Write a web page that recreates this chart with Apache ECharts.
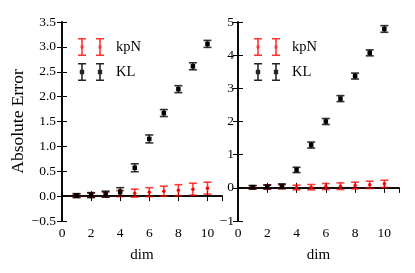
<!DOCTYPE html>
<html><head><meta charset="utf-8">
<script src="https://cdn.jsdelivr.net/npm/echarts@6/dist/echarts.min.js"></script>
<style>html,body{margin:0;padding:0;background:#fff}#c{width:415px;height:273px}</style>
</head><body><div id="c"></div>
<script>
var dims = [1,2,3,4,5,6,7,8,9,10];
var leftKL = [0.01,0.02,0.04,0.09,0.57,1.15,1.67,2.15,2.61,3.06];
var leftKLErr = [0.04,0.05,0.06,0.08,0.08,0.08,0.07,0.07,0.07,0.07];
var leftKpN = [0.01,0.02,0.03,0.05,0.06,0.08,0.10,0.12,0.14,0.16];
var leftKpNErr = [0.03,0.04,0.05,0.06,0.08,0.09,0.10,0.11,0.12,0.12];
var rightKL = [0.02,0.03,0.05,0.54,1.29,2.00,2.69,3.37,4.07,4.79];
var rightKLErr = [0.05,0.06,0.07,0.08,0.09,0.09,0.09,0.09,0.09,0.10];
var rightKpN = [0.01,0.02,0.03,0.01,0.02,0.04,0.05,0.07,0.09,0.12];
var rightKpNErr = [0.05,0.06,0.06,0.07,0.08,0.09,0.10,0.10,0.11,0.11];
var leftYTicks = {min:-0.5, max:3.5, interval:0.5};
var rightYTicks = {min:-1, max:5, interval:1};
var xTicks = {min:0, max:11, interval:2};

var FONT = 'Liberation Serif';
var RED = '#ff0000', BLK = '#000000';

function triples(vals, errs){ return dims.map(function(d,i){ return [d, vals[i], errs[i]]; }); }
function pairs(vals){ return dims.map(function(d,i){ return [d, vals[i]]; }); }

function errRender(color, opacity){
  return function(params, api){
    var x = api.value(0), y = api.value(1), e = api.value(2);
    var top = api.coord([x, y + e]), bot = api.coord([x, y - e]);
    var hw = 4;
    var st = {stroke: color, lineWidth: 1.6, opacity: opacity};
    return {type:'group', children:[
      {type:'line', shape:{x1:top[0], y1:top[1], x2:bot[0], y2:bot[1]}, style:st},
      {type:'line', shape:{x1:top[0]-hw, y1:top[1], x2:top[0]+hw, y2:top[1]}, style:st},
      {type:'line', shape:{x1:bot[0]-hw, y1:bot[1], x2:bot[0]+hw, y2:bot[1]}, style:st}
    ]};
  };
}

function beam(cx, mk){
  return 'M'+(cx-4)+' 0H'+(cx+4)+'V1.5H'+(cx-4)+'Z'
    + 'M'+(cx-0.8)+' 0H'+(cx+0.8)+'V18H'+(cx-0.8)+'Z'
    + 'M'+(cx-4)+' 16.5H'+(cx+4)+'V18H'+(cx-4)+'Z'
    + 'M'+(cx-mk)+' '+(9-mk)+'H'+(cx+mk)+'V'+(9+mk)+'H'+(cx-mk)+'Z';
}
var iconKpN = 'path://' + beam(4,1.4) + beam(22,1.4);
var iconKL = 'path://' + beam(4,2.2) + beam(22,2.2);

var tickStyle = {color:'#000', fontFamily:FONT, fontSize:13.5};
var LW = 1.6;
function xAxisPair(gi){
  return [
    {type:'value', gridIndex:gi, position:'bottom', min:xTicks.min, max:xTicks.max, interval:xTicks.interval,
     name:'dim', nameLocation:'middle', nameGap:27, nameTextStyle:{color:'#000', fontFamily:FONT, fontSize:15},
     axisLine:{show:true, lineStyle:{color:'#000', width:LW}},
     axisTick:{show:true, inside:true, length:5, lineStyle:{color:'#000', width:1}},
     axisLabel:Object.assign({margin:5, showMaxLabel:false, formatter:function(v){return v===11?'':String(v);}}, tickStyle),
     splitLine:{show:false}},
    {type:'value', gridIndex:gi, position:'top', min:xTicks.min, max:xTicks.max, interval:xTicks.interval,
     axisLine:{show:true, lineStyle:{color:'#000', width:LW}},
     axisTick:{show:true, inside:true, length:5, lineStyle:{color:'#000', width:1}},
     axisLabel:{show:false}, splitLine:{show:false}}
  ];
}
function yAxisPair(gi, t, nameObj, margin){
  var fmt = function(v){
    var s = (t.interval < 1) ? v.toFixed(1) : String(Math.round(v));
    return s.replace('-', '\u2212');
  };
  var main = {type:'value', gridIndex:gi, position:'left', min:t.min, max:t.max, interval:t.interval,
     axisLine:{show:true, lineStyle:{color:'#000', width:LW}},
     axisTick:{show:true, inside:true, length:5, lineStyle:{color:'#000', width:1}},
     axisLabel:Object.assign({margin:margin, formatter:fmt}, tickStyle),
     splitLine:{show:false}};
  if (nameObj) Object.assign(main, nameObj);
  return [main,
    {type:'value', gridIndex:gi, position:'right', min:t.min, max:t.max, interval:t.interval,
     axisLine:{show:true, lineStyle:{color:'#000', width:LW}},
     axisTick:{show:true, inside:true, length:5, lineStyle:{color:'#000', width:1}},
     axisLabel:{show:false}, splitLine:{show:false}}];
}

var xAxes = xAxisPair(0).concat(xAxisPair(1));
var yAxes = yAxisPair(0, leftYTicks, {name:'Absolute Error', nameLocation:'middle', nameGap:35, nameRotate:90,
   nameTextStyle:{color:'#000', fontFamily:FONT, fontSize:17.5}}, 6).concat(yAxisPair(1, rightYTicks, null, 4));

function seriesFor(gi, kpN, kpNErr, kl, klErr){
  var xi = gi*2, yi = gi*2;
  return [
    {name:'kpN', type:'custom', xAxisIndex:xi, yAxisIndex:yi, data:triples(kpN,kpNErr),
     renderItem:errRender(RED,0.75), itemStyle:{color:RED}, encode:{x:0,y:1}, z:2, silent:true},
    {name:'kpN', type:'scatter', xAxisIndex:xi, yAxisIndex:yi, data:pairs(kpN), symbol:'circle', symbolSize:3.5,
     itemStyle:{color:RED, opacity:1}, z:3, silent:true},
    {name:'KL', type:'custom', xAxisIndex:xi, yAxisIndex:yi, data:triples(kl,klErr),
     renderItem:errRender(BLK,0.8), itemStyle:{color:BLK}, encode:{x:0,y:1}, z:4, silent:true},
    {name:'KL', type:'scatter', xAxisIndex:xi, yAxisIndex:yi, data:pairs(kl), symbol:'rect', symbolSize:4.5,
     itemStyle:{color:BLK, opacity:1}, z:5, silent:true}
  ];
}

function legendAt(left){
  return {orient:'vertical', left:left, top:33, itemWidth:26, itemHeight:18, itemGap:7,
    selectedMode:false,
    textStyle:{color:'#000', fontFamily:FONT, fontSize:14.5, padding:[0,0,0,7]},
    data:[{name:'kpN', icon:iconKpN, itemStyle:{color:RED, opacity:0.8}},
          {name:'KL', icon:iconKL, itemStyle:{color:BLK, opacity:0.85}}]};
}

var chart = echarts.init(document.getElementById('c'), null, {renderer:'canvas'});
chart.setOption({
  animation:false,
  backgroundColor:'#fff',
  grid:[{left:62, top:22, width:160, height:199, containLabel:false},
        {left:238, top:22, width:161, height:199, containLabel:false}],
  xAxis:xAxes,
  yAxis:yAxes,
  legend:[legendAt(73), legendAt(249)],
  series:seriesFor(0,leftKpN,leftKpNErr,leftKL,leftKLErr).concat(seriesFor(1,rightKpN,rightKpNErr,rightKL,rightKLErr))
});
</script></body></html>
